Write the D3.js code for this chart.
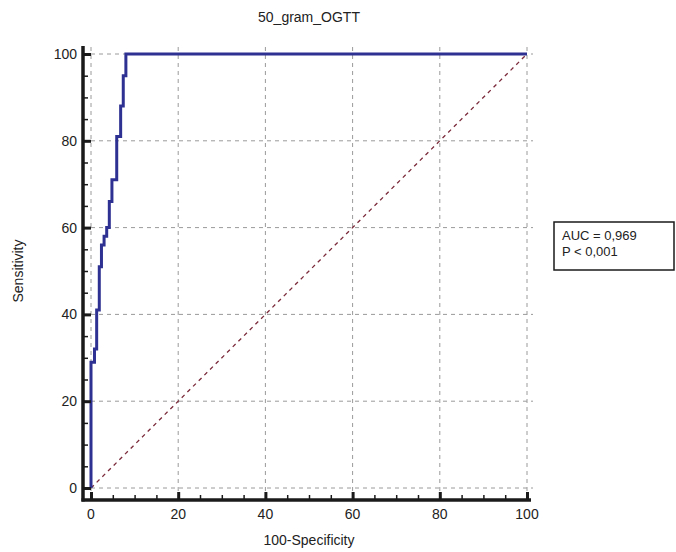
<!DOCTYPE html>
<html>
<head>
<meta charset="utf-8">
<script src="https://cdn.jsdelivr.net/npm/d3@7"></script>
<style>
  body { margin: 0; background: #fff; }
  svg text { font-family: "Liberation Sans", Arial, sans-serif; fill: #222; }
</style>
</head>
<body>
<div id="chart"></div>
<script>
// ROC curve points (percent)
const fpr = [0, 0, 0.8, 0.8, 1.3, 1.3, 1.9, 1.9, 2.4, 2.4, 3.0, 3.0, 3.6, 3.6, 4.2, 4.2, 4.8, 4.8, 5.9, 5.9, 6.8, 6.8, 7.4, 7.4, 8.0, 8.0, 100];
const tpr = [0, 29, 29, 32, 32, 41, 41, 51, 51, 56, 56, 58, 58, 60, 60, 66, 66, 71, 71, 81, 81, 88, 88, 95, 95, 100, 100];
const refLine = [[0, 0], [100, 100]];
const majorTicks = [0, 20, 40, 60, 80, 100];
const minorTicks = d3.range(0, 101, 5);
const title = '50_gram_OGTT';
const xLabel = '100-Specificity';
const yLabel = 'Sensitivity';
const statLines = ['AUC = 0,969', 'P < 0,001'];

const width = 676, height = 552;
const svg = d3.select('#chart').append('svg')
  .attr('width', width)
  .attr('height', height);

const x = d3.scaleLinear().domain([0, 100]).range([91, 527]);
const y = d3.scaleLinear().domain([0, 100]).range([488, 54]);

const axisX = 83;   // left axis line sits a bit left of x=0
const axisY = 500;  // bottom axis line sits a bit below y=0

// grid
const grid = svg.append('g').attr('stroke', '#9a9a9a').attr('stroke-width', 1)
  .attr('stroke-dasharray', '4,4');
grid.selectAll('.gy').data(majorTicks).join('line')
  .attr('x1', axisX).attr('x2', x(100) + 6)
  .attr('y1', d => y(d)).attr('y2', d => y(d));
grid.selectAll('.gx').data(majorTicks).join('line')
  .attr('x1', d => x(d)).attr('x2', d => x(d))
  .attr('y1', y(100) - 7).attr('y2', axisY);

// reference diagonal
svg.append('path')
  .datum(refLine)
  .attr('d', d3.line().x(d => x(d[0])).y(d => y(d[1])))
  .attr('fill', 'none')
  .attr('stroke', '#7b2b3b')
  .attr('stroke-width', 1.3)
  .attr('stroke-dasharray', '4,4');

// ROC curve
const pts = fpr.map((f, i) => [f, tpr[i]]);
svg.append('path')
  .datum(pts)
  .attr('d', d3.line().x(d => x(d[0])).y(d => y(d[1])))
  .attr('fill', 'none')
  .attr('stroke', '#2e3192')
  .attr('stroke-width', 3)
  .attr('stroke-linejoin', 'miter');

// axes
const yAxis = d3.axisRight(y).tickValues(majorTicks).tickSize(8).tickFormat('');
const yMinor = d3.axisRight(y).tickValues(minorTicks).tickSize(5).tickFormat('');
const xAxis = d3.axisTop(x).tickValues(majorTicks).tickSize(8).tickFormat('');
const xMinor = d3.axisTop(x).tickValues(minorTicks).tickSize(5).tickFormat('');

function styleAxis(g, w) {
  g.select('.domain').remove();
  g.selectAll('.tick line').attr('stroke', '#1a1a1a').attr('stroke-width', w);
}

svg.append('g').attr('transform', `translate(${axisX},0)`).call(yMinor).call(g => styleAxis(g, 1.5));
svg.append('g').attr('transform', `translate(${axisX},0)`).call(yAxis).call(g => styleAxis(g, 3));
svg.append('g').attr('transform', `translate(0,${axisY})`).call(xMinor).call(g => styleAxis(g, 1.5));
svg.append('g').attr('transform', `translate(0,${axisY})`).call(xAxis).call(g => styleAxis(g, 3));

svg.append('line')
  .attr('x1', axisX).attr('x2', axisX)
  .attr('y1', y(100) - 8).attr('y2', axisY + 1.5)
  .attr('stroke', '#1a1a1a').attr('stroke-width', 3.5);
svg.append('line')
  .attr('x1', axisX - 1.5).attr('x2', x(100) + 4)
  .attr('y1', axisY).attr('y2', axisY)
  .attr('stroke', '#1a1a1a').attr('stroke-width', 3.5);

// tick labels
svg.append('g').selectAll('text').data(majorTicks).join('text')
  .attr('x', axisX - 6).attr('y', d => y(d))
  .attr('dy', '0.35em')
  .attr('text-anchor', 'end')
  .attr('font-size', 14)
  .text(d => d);
svg.append('g').selectAll('text').data(majorTicks).join('text')
  .attr('x', d => x(d)).attr('y', axisY + 19)
  .attr('text-anchor', 'middle')
  .attr('font-size', 14)
  .text(d => d);

// titles
svg.append('text')
  .attr('x', 309).attr('y', 22)
  .attr('text-anchor', 'middle')
  .attr('font-size', 14)
  .text(title);
svg.append('text')
  .attr('x', 309).attr('y', 545)
  .attr('text-anchor', 'middle')
  .attr('font-size', 14)
  .text(xLabel);
svg.append('text')
  .attr('transform', 'translate(23,271) rotate(-90)')
  .attr('text-anchor', 'middle')
  .attr('font-size', 14)
  .text(yLabel);

// stats box
svg.append('rect')
  .attr('x', 554).attr('y', 222)
  .attr('width', 120).attr('height', 48)
  .attr('fill', '#fff')
  .attr('stroke', '#1a1a1a')
  .attr('stroke-width', 1.5);
svg.append('g').selectAll('text').data(statLines).join('text')
  .attr('x', 562).attr('y', (d, i) => 240 + i * 16)
  .attr('font-size', 13)
  .text(d => d);
</script>
</body>
</html>
